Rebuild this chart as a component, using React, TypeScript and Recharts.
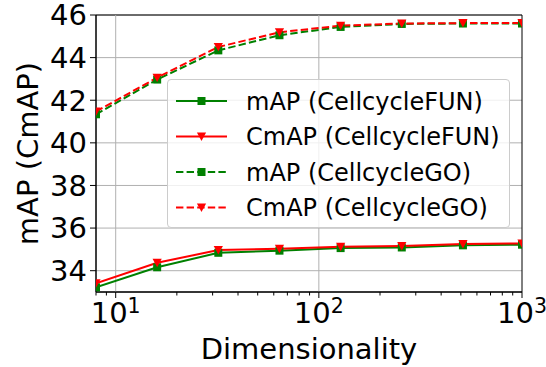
import {
  LineChart,
  Line,
  XAxis,
  YAxis,
  CartesianGrid,
  ReferenceLine,
  ReferenceArea,
  Legend,
} from 'recharts'

const dims = [8, 16, 32, 64, 128, 256, 512, 1000]
const mapFun = [33.22, 34.16, 34.84, 34.94, 35.06, 35.09, 35.19, 35.22]
const cmapFun = [33.41, 34.37, 34.97, 35.03, 35.12, 35.16, 35.25, 35.28]
const mapGo = [41.34, 42.97, 44.34, 45.05, 45.44, 45.58, 45.6, 45.6]
const cmapGo = [41.47, 43.06, 44.5, 45.19, 45.5, 45.6, 45.62, 45.62]

const yTicks = [34, 36, 38, 40, 42, 44, 46]
const xMajor = [10, 100, 1000]
const xMinor = [8, 9, 20, 30, 40, 50, 60, 70, 80, 90, 200, 300, 400, 500, 600, 700, 800, 900]

const FONT = '"DejaVu Sans", sans-serif'
const GREEN = '#008000'
const RED = '#ff0000'
const DASH = '7.4 3.2'

type Shape = 'square' | 'tri'

const series: { key: string; name: string; color: string; shape: Shape; dashed: boolean }[] = [
  { key: 'mapFun', name: 'mAP (CellcycleFUN)', color: GREEN, shape: 'square', dashed: false },
  { key: 'cmapFun', name: 'CmAP (CellcycleFUN)', color: RED, shape: 'tri', dashed: false },
  { key: 'mapGo', name: 'mAP (CellcycleGO)', color: GREEN, shape: 'square', dashed: true },
  { key: 'cmapGo', name: 'CmAP (CellcycleGO)', color: RED, shape: 'tri', dashed: true },
]

const data = dims.map((d, i) => ({
  dim: d,
  mapFun: mapFun[i],
  cmapFun: cmapFun[i],
  mapGo: mapGo[i],
  cmapGo: cmapGo[i],
}))

function Marker({ cx, cy, shape, color }: { cx: number; cy: number; shape: Shape; color: string }) {
  if (shape === 'square') {
    return <rect x={cx - 4} y={cy - 4} width={8} height={8} fill={color} />
  }
  return <path d={`M${cx - 4.6},${cy - 4} L${cx + 4.6},${cy - 4} L${cx},${cy + 4.4} Z`} fill={color} />
}

function makeDot(shape: Shape, color: string) {
  return (props: any) => {
    const { cx, cy, index } = props
    if (cx == null || cy == null) return <g key={index} />
    return (
      <g key={index}>
        <Marker cx={cx} cy={cy} shape={shape} color={color} />
      </g>
    )
  }
}

function XTick(props: any) {
  const { x, y, payload } = props
  const v = payload.value
  const lg = Math.log10(v)
  const exp = Math.round(lg)
  const major = Math.abs(lg - exp) < 1e-9
  return (
    <g>
      <line x1={x} y1={y} x2={x} y2={y + (major ? 6 : 3.5)} stroke="#000" strokeWidth={1} />
      {major && (
        <text x={x} y={y + 31} textAnchor="middle" fontSize={29} fontFamily={FONT} fill="#000">
          <tspan>10</tspan>
          <tspan dy={-10} fontSize={20.5}>
            {exp}
          </tspan>
        </text>
      )}
    </g>
  )
}

function LegendBox() {
  const rows = [21, 56.5, 92, 127.5]
  return (
    <div
      style={{
        width: 343,
        height: 149,
        boxSizing: 'border-box',
        border: '1px solid #cccccc',
        borderRadius: 4,
        background: 'rgba(255,255,255,0.8)',
      }}
    >
      <svg width={341} height={147} style={{ display: 'block' }}>
        {series.map((s, i) => (
          <g key={s.key}>
            <line
              x1={8}
              x2={59}
              y1={rows[i]}
              y2={rows[i]}
              stroke={s.color}
              strokeWidth={2}
              strokeDasharray={s.dashed ? DASH : undefined}
            />
            <Marker cx={33.5} cy={rows[i]} shape={s.shape} color={s.color} />
            <text x={78} y={rows[i] + 8.7} fontSize={24} fontFamily={FONT} fill="#000">
              {s.name}
            </text>
          </g>
        ))}
      </svg>
    </div>
  )
}

export default function App() {
  return (
    <div style={{ position: 'absolute', left: 0, top: 0, background: '#fff' }}>
      <LineChart
        width={546}
        height={367}
        data={data}
        margin={{ top: 15, right: 24, bottom: 0, left: 0 }}
        style={{ fontFamily: FONT }}
      >
        <CartesianGrid vertical={false} stroke="#b0b0b0" strokeWidth={1} />
        {xMajor.slice(0, 2).map((v) => (
          <ReferenceLine key={v} x={v} stroke="#b0b0b0" strokeWidth={1} />
        ))}
        <XAxis
          dataKey="dim"
          type="number"
          scale="log"
          domain={[8, 1000]}
          allowDataOverflow
          ticks={[...xMinor, ...xMajor].sort((a, b) => a - b)}
          interval={0}
          tick={(p: any) => <XTick {...p} />}
          tickLine={false}
          tickSize={0}
          tickMargin={0}
          height={75}
          axisLine={{ stroke: '#000' }}
          label={(p: any) => {
            const vb = p.viewBox
            return (
              <text
                x={vb.x + vb.width / 2}
                y={vb.y + 67}
                textAnchor="middle"
                fontSize={29}
                fontFamily={FONT}
                fill="#000"
              >
                Dimensionality
              </text>
            )
          }}
        />
        <YAxis
          type="number"
          domain={[33, 46]}
          ticks={yTicks}
          interval={0}
          width={96}
          tickSize={6}
          tickMargin={3}
          tick={{ fill: '#000', fontSize: 29, fontFamily: FONT }}
          tickLine={{ stroke: '#000' }}
          axisLine={{ stroke: '#000' }}
          label={(p: any) => {
            const vb = p.viewBox
            const cx = vb.x + 28
            const cy = vb.y + vb.height / 2
            return (
              <text
                x={cx}
                y={cy}
                transform={`rotate(-90 ${cx} ${cy})`}
                textAnchor="middle"
                dominantBaseline="central"
                fontSize={29}
                fontFamily={FONT}
                fill="#000"
              >
                mAP (CmAP)
              </text>
            )
          }}
        />
        {series.map((s) => (
          <Line
            key={s.key}
            type="linear"
            dataKey={s.key}
            name={s.name}
            stroke={s.color}
            strokeWidth={2}
            strokeDasharray={s.dashed ? DASH : undefined}
            dot={makeDot(s.shape, s.color)}
            activeDot={false}
            isAnimationActive={false}
          />
        ))}
        <ReferenceArea x1={8} x2={1000} y1={33} y2={46} fill="none" stroke="#000" strokeWidth={1} />
        <Legend
          layout="vertical"
          align="center"
          verticalAlign="middle"
          wrapperStyle={{ left: 167, top: 79, width: 343, height: 149 }}
          content={() => <LegendBox />}
        />
      </LineChart>
    </div>
  )
}
